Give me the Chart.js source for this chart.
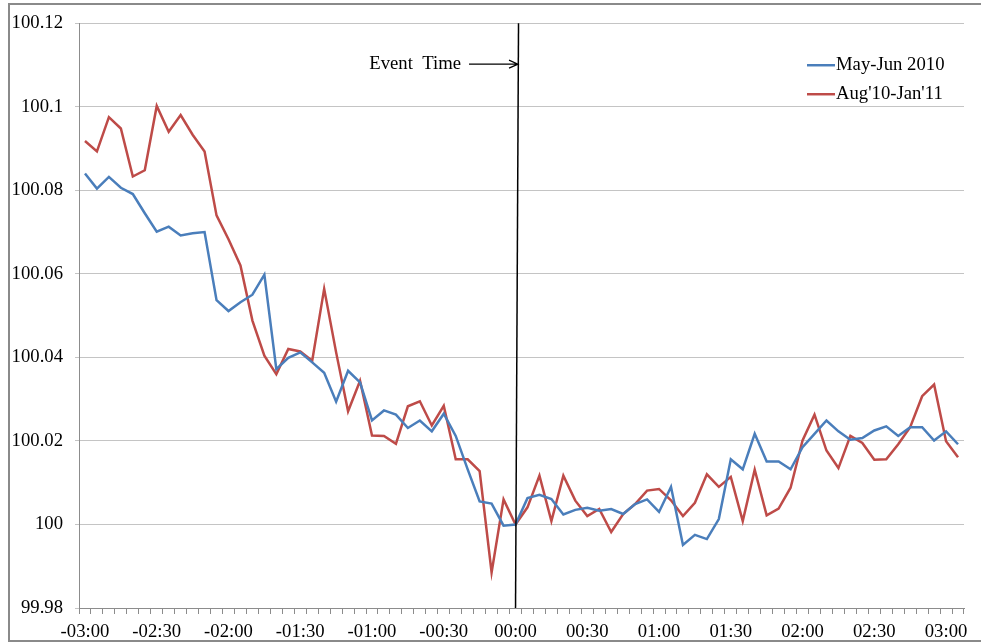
<!DOCTYPE html>
<html>
<head>
<meta charset="utf-8">
<script src="https://cdn.jsdelivr.net/npm/chart.js@4.4.1/dist/chart.umd.min.js"></script>
<style>
  html, body { margin: 0; padding: 0; background: #fff; }
  #wrap  { position: relative; width: 981px; height: 644px; overflow: hidden; }
  #frame { position: absolute; left: 8px; top: 3px; width: 1000px; height: 639px;
           border: 2px solid #8a8a8a; box-sizing: border-box; }
  canvas { position: absolute; left: 0; top: 0; }
</style>
</head>
<body>
<div id="wrap">
  <div id="frame"></div>
  <canvas id="chart" width="981" height="644"></canvas>
</div>
<script>
// ── Data ──────────────────────────────────────────────────────────────────────
// 5-minute steps from -03:00 to +03:05 (the last point sits past the 03:00 label)
const stepMinutes = 5;
const pointCount  = 74;
const labelEvery  = 6;          // one label per half hour
const eventIndex  = 36;         // 00:00

const yTicks = [99.98, 100, 100.02, 100.04, 100.06, 100.08, 100.1, 100.12];

const mayJun2010 = [
  100.0840, 100.0804, 100.0832, 100.0806, 100.0791, 100.0745, 100.0701, 100.0713, 100.0692, 100.0697,
  100.0700, 100.0537, 100.0511, 100.0532, 100.0550, 100.0598, 100.0372, 100.0399, 100.0412, 100.0388,
  100.0363, 100.0294, 100.0368, 100.0340, 100.0249, 100.0273, 100.0263, 100.0231, 100.0249, 100.0223,
  100.0265, 100.0212, 100.0132, 100.0055, 100.0050,  99.9997, 100.0000, 100.0063, 100.0071, 100.0061,
  100.0024, 100.0035, 100.0040, 100.0033, 100.0037, 100.0025, 100.0049, 100.0060, 100.0030, 100.0090,
   99.9951,  99.9975,  99.9965, 100.0013, 100.0156, 100.0132, 100.0217, 100.0151, 100.0151, 100.0132,
  100.0185, 100.0217, 100.0249, 100.0223, 100.0203, 100.0207, 100.0225, 100.0235, 100.0212, 100.0233,
  100.0233, 100.0201, 100.0223, 100.0192
];

const aug10Jan11 = [
  100.0918, 100.0893, 100.0975, 100.0948, 100.0833, 100.0848, 100.1002, 100.0940, 100.0980, 100.0933,
  100.0893, 100.0740, 100.0683, 100.0620, 100.0488, 100.0404, 100.0360, 100.0420, 100.0414, 100.0392,
  100.0564, 100.0412, 100.0271, 100.0344, 100.0213, 100.0212, 100.0193, 100.0283, 100.0295, 100.0237,
  100.0284, 100.0156, 100.0156, 100.0128,  99.9885, 100.0060, 100.0000, 100.0041, 100.0117, 100.0008,
  100.0117, 100.0057, 100.0020, 100.0037,  99.9982, 100.0025, 100.0049, 100.0081, 100.0085, 100.0058,
  100.0020, 100.0052, 100.0120, 100.0090, 100.0114, 100.0008, 100.0131, 100.0022, 100.0038, 100.0088,
  100.0201, 100.0263, 100.0177, 100.0135, 100.0212, 100.0195, 100.0155, 100.0156, 100.0192, 100.0233,
  100.0307, 100.0335, 100.0199, 100.0161
];

const seriesNames  = ["May-Jun 2010", "Aug'10-Jan'11"];
const seriesColors = ["#4a7ebb", "#be4b48"];
const eventText    = "Event  Time";
const eventTextY   = 100.1102;  // height of the annotation, in data units

// ── Labels ────────────────────────────────────────────────────────────────────
function fmtMinutes(m) {
  const sign = m < 0 ? "-" : "";
  const a = Math.abs(m);
  const hh = String(Math.floor(a / 60)).padStart(2, "0");
  const mm = String(a % 60).padStart(2, "0");
  return `${sign}${hh}:${mm}`;
}
const labels = [];
for (let i = 0; i < pointCount; i++) labels.push(fmtMinutes((i - eventIndex) * stepMinutes));

// ── Plugins ───────────────────────────────────────────────────────────────────
const FONT_SIZE = 18.7;
const FONT = `${FONT_SIZE}px 'Liberation Serif', 'Times New Roman', serif`;

const eventPlugin = {
  id: "eventLine",
  afterDatasetsDraw(chart) {
    const { ctx, chartArea, scales } = chart;
    const x = scales.x.getPixelForValue(eventIndex);
    ctx.save();
    ctx.strokeStyle = "#000";
    ctx.lineWidth = 1.5;
    ctx.beginPath();
    ctx.moveTo(x + 3, chartArea.top);
    ctx.lineTo(x, chartArea.bottom);
    ctx.stroke();

    // annotation + arrow
    const y = scales.y.getPixelForValue(eventTextY);
    const tip = x + 2.5;
    const tail = tip - 49;
    ctx.lineWidth = 1.2;
    ctx.beginPath();
    ctx.moveTo(tail, y); ctx.lineTo(tip, y);
    ctx.moveTo(tip - 9, y - 4); ctx.lineTo(tip, y); ctx.lineTo(tip - 9, y + 4);
    ctx.stroke();
    ctx.fillStyle = "#000";
    ctx.font = FONT;
    ctx.textAlign = "right";
    ctx.textBaseline = "middle";
    ctx.fillText(eventText, tail - 8, y);
    ctx.restore();
  }
};

const legendPlugin = {
  id: "cornerLegend",
  afterDraw(chart) {
    const { ctx, chartArea } = chart;
    ctx.save();
    ctx.font = FONT;
    ctx.textBaseline = "middle";
    ctx.textAlign = "left";
    chart.data.datasets.forEach((ds, i) => {
      const y = chartArea.top + 42 + i * 29;
      const x0 = chartArea.right - 157;
      ctx.strokeStyle = ds.borderColor;
      ctx.lineWidth = 2.5;
      ctx.beginPath();
      ctx.moveTo(x0, y); ctx.lineTo(x0 + 28, y);
      ctx.stroke();
      ctx.fillStyle = "#000";
      ctx.fillText(ds.label, x0 + 29, y);
    });
    ctx.restore();
  }
};

// ── Chart ─────────────────────────────────────────────────────────────────────
new Chart(document.getElementById("chart"), {
  type: "line",
  data: {
    labels,
    datasets: [mayJun2010, aug10Jan11].map((d, i) => ({
      label: seriesNames[i],
      data: d,
      borderColor: seriesColors[i],
      backgroundColor: seriesColors[i],
      borderWidth: 2.5,
      pointRadius: 0,
      tension: 0,
      fill: false,
    })),
  },
  options: {
    responsive: false,
    animation: false,
    layout: { padding: { left: 0, top: 22, right: 17, bottom: 0 } },
    plugins: { legend: { display: false }, tooltip: { enabled: false } },
    scales: {
      x: {
        type: "category",
        offset: true,
        grid: { drawOnChartArea: false, drawTicks: true, tickLength: 6, offset: true, color: "#8c8c8c" },
        border: { display: true, color: "#8c8c8c", width: 1 },
        ticks: {
          autoSkip: false, maxRotation: 0, minRotation: 0, padding: 7,
          color: "#000", font: { family: "'Liberation Serif'", size: FONT_SIZE },
          callback: (v, i) => (i % labelEvery === 0 ? labels[i] : ""),
        },
        afterFit: s => { s.height = 36; },
      },
      y: {
        min: yTicks[0],
        max: yTicks[yTicks.length - 1],
        afterBuildTicks: s => { s.ticks = yTicks.map(v => ({ value: v })); },
        grid: { color: "#c4c4c4", tickLength: 4 },
        border: { display: true, color: "#8c8c8c", width: 1 },
        ticks: {
          padding: 12, color: "#000", font: { family: "'Liberation Serif'", size: FONT_SIZE },
          callback: v => String(+Number(v).toFixed(2)),
        },
        afterFit: s => { s.width = 79; },
      },
    },
  },
  plugins: [eventPlugin, legendPlugin],
});
</script>
</body>
</html>
